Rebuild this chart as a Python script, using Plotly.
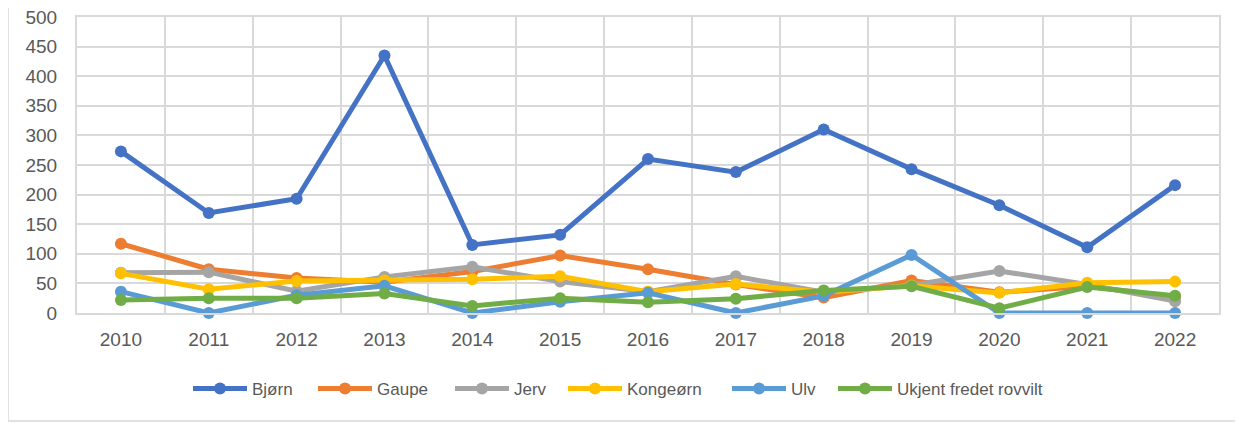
import plotly.graph_objects as go

years = ["2010", "2011", "2012", "2013", "2014", "2015", "2016",
         "2017", "2018", "2019", "2020", "2021", "2022"]

bjorn = [273, 169, 193, 435, 115, 132, 260, 238, 310, 243, 182, 111, 216]
gaupe = [117, 74, 59, 52, 70, 97, 74, 48, 26, 55, 35, 45, 27]
jerv = [68, 69, 37, 61, 78, 53, 36, 62, 35, 47, 71, 48, 20]
kongeorn = [67, 40, 54, 55, 57, 62, 36, 49, 35, 46, 34, 51, 53]
ulv = [36, 0, 30, 46, 0, 19, 34, 0, 29, 98, 0, 0, 0]
ukjent = [22, 25, 25, 33, 12, 25, 18, 24, 38, 45, 8, 44, 29]

series = [
    ("Bjørn", bjorn, "#4472C4"),
    ("Gaupe", gaupe, "#ED7D31"),
    ("Jerv", jerv, "#A5A5A5"),
    ("Kongeørn", kongeorn, "#FFC000"),
    ("Ulv", ulv, "#5B9BD5"),
    ("Ukjent fredet rovvilt", ukjent, "#70AD47"),
]

# page-x where each legend entry's line starts (layout only)
legend_x_px = [190, 315, 452, 565, 729, 835]

W, H = 1235, 417          # page body has an 8px margin
L, R, T, B = 69, 24, 9, 112
PW = W - L - R
PH = H - T - B

fig = go.Figure()
legend_layouts = {}
legfont = dict(family="Liberation Sans, Arial, sans-serif", size=17, color="#595959")
for i, (name, vals, col) in enumerate(series):
    key = "legend" if i == 0 else f"legend{i+1}"
    fig.add_trace(go.Scatter(
        x=years, y=vals, name=name, mode="lines+markers",
        line=dict(color=col, width=5),
        marker=dict(color=col, size=12),
        cliponaxis=False, legend=key,
    ))
    px = legend_x_px[i] - 8 - L - 2
    legend_layouts[key] = dict(
        orientation="h", x=px / PW, xanchor="left",
        y=(PH - (389 - 8 - T)) / PH, yanchor="middle",
        font=legfont, itemwidth=54, bgcolor="rgba(0,0,0,0)",
    )

grid = "#D9D9D9"
tickfont = dict(family="Liberation Sans, Arial, sans-serif", size=19, color="#595959")

fig.update_layout(
    width=W, height=H,
    margin=dict(l=L, r=R, t=T, b=B, autoexpand=False),
    paper_bgcolor="white", plot_bgcolor="white",
    showlegend=True,
    xaxis=dict(type="category", range=[-0.5, 12.5], tickson="boundaries",
               showgrid=True, gridcolor=grid, gridwidth=2,
               showline=True, linecolor=grid, linewidth=2, mirror=True,
               ticks="", tickfont=tickfont, ticklabelstandoff=8, zeroline=False,
               automargin=False, ticklabeloverflow="allow"),
    yaxis=dict(range=[0, 500], dtick=50, showgrid=True, gridcolor=grid, gridwidth=2,
               showline=True, linecolor=grid, linewidth=2, mirror=True,
               ticks="", tickfont=tickfont, ticklabelstandoff=14, zeroline=False,
               automargin=False, ticklabeloverflow="allow"),
    shapes=[
        dict(type="line", xref="paper", yref="paper", x0=-L / PW, x1=-L / PW,
             y0=-(H - 4 - (T + PH)) / PH, y1=1 + T / PH,
             line=dict(color=grid, width=1.5)),
        dict(type="line", xref="paper", yref="paper", x0=-L / PW, x1=1 + R / PW,
             y0=-(H - 4 - (T + PH)) / PH, y1=-(H - 4 - (T + PH)) / PH,
             line=dict(color=grid, width=1.5)),
    ],
    **legend_layouts,
)

fig.write_html("out.html")
